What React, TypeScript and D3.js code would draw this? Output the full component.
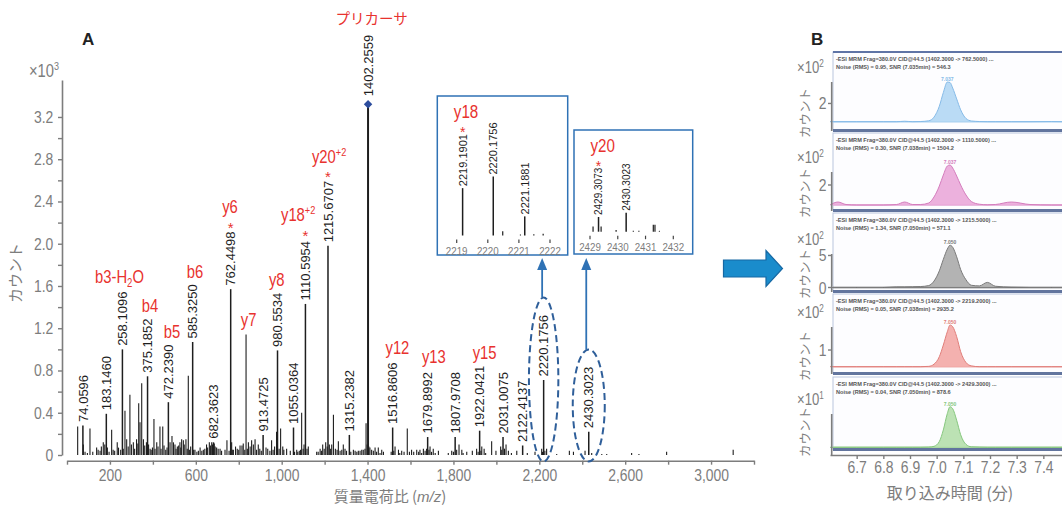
import { useEffect, useRef } from 'react';
import * as d3 from 'd3';

const RED = '#e8322e';
const GRAY = '#7d7d7d';
const BLUE = '#2f72b5';
const INK = '#1e1e1e';
const SANS = "'Liberation Sans', Arial, sans-serif";
const JP = "'Noto Sans CJK JP', 'Noto Sans', sans-serif";
const SQUEEZE = 0.82; // the original uses a condensed face

// ---- Panel A: product ion spectrum, counts in x10^3
const labeledMz = [74.0596, 183.146, 258.1096, 375.1852, 472.239, 585.325, 682.3623, 762.4498, 913.4725, 980.5534,
  1055.0364, 1110.5954, 1215.6707, 1315.2382, 1402.2559, 1516.8606, 1679.8992, 1807.9708, 1922.0421, 2031.0075,
  2122.4137, 2220.1756, 2430.3023];
const labeledCounts = [0.28, 0.39, 1.0, 0.745, 0.5, 1.07, 0.12, 1.57, 0.19, 0.99,
  0.26, 1.43, 1.98, 0.19, 3.32, 0.26, 0.17, 0.17, 0.23, 0.17,
  0.09, 0.71, 0.22];
const starredMz = [762.4498, 1110.5954, 1215.6707];
const precursorMz = 1402.2559;

const minorPeaks: [number, number][] = [
  [49.7, 0.27], [76, 0.1], [84, 0.03], [95, 0.02], [107, 0.25], [120, 0.03], [138, 0.07], [145, 0.05], [154, 0.04],
  [160, 0.08], [169, 0.12], [176, 0.1], [188, 0.07], [196, 0.03], [208, 0.24], [215, 0.05], [222, 0.04], [234, 0.12],
  [240, 0.07], [250, 0.05], [262, 0.06], [270, 0.42], [278, 0.15], [285, 0.08], [293, 0.57], [300, 0.1], [309, 0.12],
  [315, 0.06], [324, 0.15], [330, 0.11], [334, 0.49], [340, 0.31], [348, 0.68], [356, 0.15], [362, 0.09], [370, 0.12],
  [380, 0.1], [387, 0.06], [392, 0.05], [398, 0.07], [405, 0.34], [410, 0.06], [418, 0.12], [424, 0.08], [433, 0.27],
  [438, 0.06], [446, 0.27], [452, 0.09], [460, 0.05], [466, 0.07], [480, 0.12], [489, 0.18], [496, 0.12], [503, 0.1],
  [508, 0.06], [514, 0.08], [520, 0.09], [526, 0.12], [530, 0.07], [534, 0.15], [542, 0.14], [546, 0.1], [554, 0.15],
  [560, 0.06], [565, 0.75], [570, 0.05], [576, 0.08], [590, 0.05], [596, 0.05], [605, 0.03], [612, 0.04], [620, 0.07],
  [628, 0.04], [635, 0.05], [642, 0.06], [650, 0.1], [655, 0.07], [663, 0.12], [668, 0.09], [674, 0.12], [678, 0.1],
  [686, 0.11], [690, 0.08], [697, 0.07], [704, 0.06], [713, 0.06], [720, 0.04], [736, 0.05], [745, 0.14], [755, 0.04],
  [767, 0.12], [770, 0.05], [775, 0.05], [785, 0.08], [793, 0.06], [800, 0.05], [806, 0.09], [815, 0.09], [821, 0.11],
  [828, 0.05], [834, 1.14], [840, 0.06], [845, 0.12], [853, 0.08], [860, 0.14], [868, 0.1], [876, 0.15], [883, 0.05],
  [891, 0.1], [898, 0.06], [905, 0.04], [927, 0.07], [935, 0.06], [945, 0.04], [953, 0.14], [960, 0.05], [967, 0.08],
  [976, 0.22], [988, 0.06], [995, 0.25], [1005, 0.08], [1010, 0.05], [1023, 0.06], [1040, 0.04], [1060, 0.03],
  [1070, 0.05], [1075, 0.03], [1082, 0.04], [1088, 0.05], [1093, 0.4], [1100, 0.06], [1104, 0.1], [1118, 0.06],
  [1124, 0.08], [1163, 0.03], [1170, 0.03], [1179, 0.06], [1185, 0.04], [1191, 0.1], [1198, 0.06], [1205, 0.12],
  [1212, 0.08], [1222, 0.1], [1228, 0.06], [1233, 0.1], [1241, 0.38], [1250, 0.06], [1258, 0.05], [1264, 0.13],
  [1272, 0.04], [1280, 0.05], [1287, 0.1], [1295, 0.06], [1302, 0.04], [1322, 0.03], [1334, 0.05], [1342, 0.04],
  [1350, 0.03], [1357, 0.04], [1365, 0.04], [1373, 0.05], [1380, 0.05], [1388, 0.06], [1393, 0.3], [1398, 0.1],
  [1406, 0.08], [1411, 0.07], [1419, 0.05], [1427, 0.04], [1435, 0.07], [1442, 0.03], [1450, 0.07], [1458, 0.02],
  [1466, 0.05], [1474, 0.03], [1510, 0.03], [1522, 0.04], [1528, 0.08], [1544, 0.05], [1550, 0.02], [1559, 0.04],
  [1570, 0.03], [1585, 0.25], [1595, 0.03], [1605, 0.05], [1615, 0.03], [1629, 0.05], [1638, 0.03], [1644, 0.05],
  [1652, 0.02], [1660, 0.06], [1668, 0.04], [1675, 0.06], [1686, 0.05], [1691, 0.08], [1698, 0.03], [1706, 0.06],
  [1715, 0.02], [1730, 0.04], [1776, 0.02], [1792, 0.04], [1800, 0.03], [1815, 0.05], [1826, 0.1], [1839, 0.05],
  [1845, 0.02], [1862, 0.03], [1888, 0.04], [1908, 0.06], [1915, 0.03], [1928, 0.04], [1932, 0.08], [1943, 0.06],
  [1950, 0.02], [1978, 0.13], [1998, 0.04], [2020, 0.08], [2025, 0.05], [2038, 0.06], [2045, 0.1], [2056, 0.04],
  [2070, 0.02], [2095, 0.04], [2144, 0.02], [2180, 0.03], [2211, 0.06], [2215, 0.03], [2226, 0.04], [2234, 0.06],
  [2281, 0.01], [2340, 0.04], [2359, 0.03], [2413, 0.04], [2444, 0.02], [2467, 0.01], [2491, 0.01], [2514, 0.01],
  [2630, 0.02], [2664, 0.01], [2793, 0.03], [3103, 0.05],
];

// fragment ion annotations
const ionNames = ['b3-H', 'b4', 'b5', 'b6', 'y6', 'y7', 'y8', 'y18', 'y20', 'y12', 'y13', 'y15'];
const ionSub = ['2', '', '', '', '', '', '', '', '', '', '', ''];
const ionTail = ['O', '', '', '', '', '', '', '', '', '', '', ''];
const ionSup = ['', '', '', '', '', '', '', '+2', '+2', '', '', ''];
const ionMz = [244.5, 386.6, 489, 596, 759, 846, 977, 996.7, 1141, 1539, 1709, 1945];
const ionCount = [1.633, 1.358, 1.112, 1.675, 2.291, 1.223, 1.602, 2.211, 2.765, 0.955, 0.875, 0.91];
const ionAnchor = ['middle', 'middle', 'middle', 'middle', 'middle', 'middle', 'middle', 'start', 'start', 'middle', 'middle', 'middle'];

// ---- insets (isotope clusters)
const y18Mz = [2219.1901, 2220.1756, 2220.48, 2221.05, 2221.1881, 2221.48, 2221.78];
const y18Counts = [0.57, 0.71, 0.05, 0.012, 0.23, 0.015, 0.02];
const y18Labels = ['2219.1901', '2220.1756', '', '', '2221.1881', '', ''];
const y18Ticks = [2219, 2220, 2221, 2222];
const y20Mz = [2429.11, 2429.3073, 2429.4, 2429.94, 2430.3023, 2430.56, 2430.76, 2431.28, 2431.34, 2431.5];
const y20Counts = [0.06, 0.17, 0.06, 0.02, 0.22, 0.01, 0.01, 0.08, 0.08, 0.01];
const y20Labels = ['', '2429.3073', '', '', '2430.3023', '', '', '', '', ''];
const y20Ticks = [2429, 2430, 2431, 2432];

// ---- Panel B: MRM chromatograms (retention time, min; counts)
const rtTimes = [6.6, 6.63, 6.66, 6.7, 6.8, 6.85, 6.88, 6.91, 6.94, 6.97, 6.99, 7.01, 7.025, 7.04, 7.05, 7.06,
  7.075, 7.09, 7.11, 7.13, 7.16, 7.19, 7.22, 7.28, 7.35, 7.43, 7.48];
const trace1 = [0, 0, 0, 0, 0, 0, 0.05, 0, 0.02, 0.1, 0.5, 1.7, 3.2, 4.35, 4.3, 3.7, 2.5, 1.3, 0.35, 0.08, 0.02, 0, 0, 0, 0, 0.02, 0];
const trace2 = [0, 0.3, 0.05, 0, 0, 0.05, 0.3, 0.05, 0.05, 0.2, 0.8, 1.9, 3.0, 3.9, 4.0, 3.7, 2.9, 2.0, 1.0, 0.35, 0.08, 0.02, 0.05, 0.3, 0.05, 0, 0];
const trace3 = [0, 0, 0, 0, 0, 0.1, 0.1, 0.12, 0.15, 0.3, 1.0, 2.6, 4.4, 6.0, 6.6, 6.3, 4.8, 2.8, 1.2, 0.35, 0.25, 0.8, 0.2, 0.05, 0, 0, 0];
const trace4 = [0, 0, 0, 0, 0, 0, 0, 0, 0, 0.02, 0.15, 0.6, 1.3, 2.1, 2.5, 2.4, 1.8, 0.9, 0.25, 0.05, 0, 0, 0, 0, 0, 0, 0];
const trace5 = [0, 0, 0, 0, 0, 0, 0, 0, 0, 0.02, 0.1, 0.6, 1.8, 3.5, 4.2, 4.0, 2.8, 1.3, 0.3, 0.05, 0.02, 0, 0, 0, 0, 0, 0];
const traceHeaders = [
  ['-ESI MRM Frag=380.0V CID@44.5 (1402.3000 -> 762.5000) ...', 'Noise (RMS) = 0.95, SNR (7.035min) = 546.3'],
  ['-ESI MRM Frag=380.0V CID@44.5 (1402.3000 -> 1110.5000) ...', 'Noise (RMS) = 0.30, SNR (7.038min) = 1504.2'],
  ['-ESI MRM Frag=380.0V CID@44.5 (1402.3000 -> 1215.5000) ...', 'Noise (RMS) = 1.34, SNR (7.050min) = 571.1'],
  ['-ESI MRM Frag=380.0V CID@44.5 (1402.3000 -> 2219.2000) ...', 'Noise (RMS) = 0.05, SNR (7.038min) = 2935.2'],
  ['-ESI MRM Frag=380.0V CID@44.5 (1402.3000 -> 2429.3000) ...', 'Noise (RMS) = 0.04, SNR (7.050min) = 878.6'],
];
const peakApexLabels = ['7.037', '7.037', '7.050', '7.050', '7.050'];
const rtTicks = [6.7, 6.8, 6.9, 7.0, 7.1, 7.2, 7.3, 7.4];

const TRACES = [trace1, trace2, trace3, trace4, trace5];
const PANELS = [
  { top: 52, bottom: 130, base: 121.7, plotTop: 75.2, yMax: 5.1, ticks: [2], exp: '2', expY: 73, fill: '#b3d7f4', line: '#86bbe8', baseLine: '#a9d0f0' },
  { top: 133, bottom: 210, base: 205, plotTop: 156, yMax: 4.9, ticks: [2], exp: '2', expY: 163, fill: '#eaa8d9', line: '#d47dbd', baseLine: '#e2a5d3' },
  { top: 213, bottom: 291, base: 287.5, plotTop: 235, yMax: 8.2, ticks: [0, 5], exp: '2', expY: 245, fill: '#ababab', line: '#7a7a7a', baseLine: '#5a5a5a' },
  { top: 294, bottom: 373, base: 366.7, plotTop: 316, yMax: 3.04, ticks: [1], exp: '2', expY: 318, fill: '#f3a9a6', line: '#e07e7a', baseLine: '#eeb0ad' },
  { top: 377, bottom: 449, base: 447.3, plotTop: 399, yMax: 5, ticks: [], exp: '1', expY: 405, fill: '#b5dfac', line: '#86c77e', baseLine: '#a9d6a1' },
];

const x = d3.scaleLinear().domain([0, 3200]).range([67, 754]);
const y = d3.scaleLinear().domain([0, 3.55]).range([455, 80]);
const xIn18 = d3.scaleLinear().domain([2219, 2222]).range([456.7, 550]);
const yIn18 = d3.scaleLinear().domain([0, 0.71]).range([235.5, 176.5]);
const xIn20 = d3.scaleLinear().domain([2429, 2432]).range([590, 673.3]);
const yIn20 = d3.scaleLinear().domain([0, 0.22]).range([231.7, 212.7]);
const xRt = d3.scaleLinear().domain([6.6, 7.5]).range([830, 1070]);

const labelLen = (s: string, fs: number) =>
  s.split('').reduce((a, c) => a + (c === '.' ? 0.278 : 0.556) * fs, 0);

// condensed text: Liberation Sans squeezed horizontally
function Cond({ x: cx, y: cy, sx = SQUEEZE, children, ...rest }: any) {
  return (
    <g transform={`translate(${cx},${cy}) scale(${sx},1)`}>
      <text x={0} y={0} fontFamily={SANS} {...rest}>{children}</text>
    </g>
  );
}

function Inset({ xs, ys, mz, counts, labels, ticks, box, name, starIdx, fs }: any) {
  const tickY = ys(0) + 4;
  const starTop = ys(counts[starIdx]) - 2 - labelLen(labels[starIdx], fs);
  return (
    <g>
      <rect x={box[0]} y={box[1]} width={box[2]} height={box[3]} fill="#fff" stroke={BLUE} strokeWidth={1.5} />
      <Cond x={box[0] + 16.5} y={box[1] + 22} fill={RED} fontSize={18.5}>{name}</Cond>
      {mz.map((m: number, i: number) => (
        <line key={i} x1={xs(m)} x2={xs(m)} y1={ys(0)} y2={ys(counts[i])} stroke={INK}
          strokeWidth={labels[i] ? 1.5 : 1.2} />
      ))}
      {mz.map((m: number, i: number) => labels[i] ? (
        <text key={'l' + i} transform={`translate(${xs(m)},${ys(counts[i]) - 2}) rotate(-90)`} dy="0.36em"
          fontFamily={SANS} fontSize={fs} fill={INK}>{labels[i]}</text>
      ) : null)}
      <text x={xs(mz[starIdx])} y={starTop - 5 + 8} textAnchor="middle" fill={RED} fontFamily={SANS}
        fontSize={14}>*</text>
      {ticks.map((t: number) => (
        <g key={t}>
          <line x1={xs(t)} x2={xs(t)} y1={tickY} y2={tickY + 3.5} stroke="#444" strokeWidth={1.2} />
          <Cond x={xs(t)} y={tickY + 15} sx={0.85} textAnchor="middle" fill={GRAY} fontSize={11.5}>{t}</Cond>
        </g>
      ))}
    </g>
  );
}

function Chromatogram({ p, values, header, apex, last }: any) {
  const ys = d3.scaleLinear().domain([0, p.yMax]).range([p.base, p.plotTop]);
  const pts = rtTimes.map((t, i) => [t, values[i]] as [number, number]);
  const area = d3.area<[number, number]>().x(d => xRt(d[0])).y0(p.base).y1(d => ys(d[1])).curve(d3.curveMonotoneX);
  const line = d3.line<[number, number]>().x(d => xRt(d[0])).y(d => ys(d[1])).curve(d3.curveMonotoneX);
  const apexI = values.indexOf(Math.max(...values));
  return (
    <g>
      <rect x={833} y={p.top} width={240} height={p.bottom - p.top} fill="#fdfdff" stroke="#b9c5de" strokeWidth={1} />
      <text x={836} y={p.top + 9} fontFamily={SANS} fontSize={5.6} fontWeight="bold" fill="#555">{header[0]}</text>
      <text x={836} y={p.top + 17} fontFamily={SANS} fontSize={5.6} fontWeight="bold" fill="#555">{header[1]}</text>
      <line x1={833} x2={1062} y1={p.base} y2={p.base} stroke={p.baseLine} strokeWidth={1.5} />
      <path d={area(pts) || ''} fill={p.fill} opacity={0.9} />
      <path d={line(pts) || ''} fill="none" stroke={p.line} strokeWidth={1} />
      <text x={xRt(rtTimes[apexI])} y={ys(values[apexI]) - 1} textAnchor="middle" fontFamily={SANS} fontSize={5}
        fontWeight="bold" fill={p.line}>{apex}</text>
      <rect x={833} y={p.bottom - 1} width={240} height={3} fill="#62759e" />
      <line x1={831.7} x2={831.7} y1={p.expY + 9} y2={last ? 455 : p.bottom + 1} stroke={GRAY} strokeWidth={1.6} />
      {p.ticks.map((t: number) => (
        <g key={t}>
          <line x1={828} x2={831.7} y1={ys(t)} y2={ys(t)} stroke={GRAY} strokeWidth={1.4} />
          <Cond x={826.5} y={ys(t) + 6} textAnchor="end" fill={GRAY} fontSize={17}>{t}</Cond>
        </g>
      ))}
      <Cond x={797} y={p.expY} fill={GRAY} fontSize={16}>×10<tspan dy={-6} fontSize={10}>{p.exp}</tspan></Cond>
      <text transform={`translate(${810},${p.bottom - 17}) rotate(-90)`} textAnchor="middle" fill={GRAY}
        fontFamily={JP} fontSize={12.5}>カウント</text>
    </g>
  );
}

function styleAxis(a: any) {
  a.select('.domain').attr('stroke', GRAY).attr('stroke-width', 1.6);
  a.selectAll('.tick line').attr('stroke', GRAY).attr('stroke-width', 1.4);
  a.selectAll('.tick text').attr('fill', GRAY).style('font-family', SANS).style('font-size', '17px')
    .attr('transform', `scale(${SQUEEZE},1)`);
}

export default function App() {
  const axARef = useRef<SVGGElement>(null);
  const axBRef = useRef<SVGGElement>(null);

  useEffect(() => {
    const gA = d3.select(axARef.current);
    gA.selectAll('*').remove();
    const yAxis = d3.axisLeft(y)
      .tickValues(d3.range(0, 17).map(i => i * 0.2))
      .tickSize(4).tickSizeOuter(0).tickPadding(6.6)
      .tickFormat((d: any) => (Math.round(d * 10) % 4 === 0 ? (d === 0 ? '0' : d.toFixed(1)) : ''));
    styleAxis(gA.append('g').attr('transform', 'translate(62,0)').call(yAxis));
    const xAxis = d3.axisBottom(x)
      .tickValues(d3.range(0, 3201, 200))
      .tickSize(4).tickSizeOuter(0).tickPadding(4)
      .tickFormat((d: any) => (d > 0 && (d - 200) % 400 === 0 ? d3.format(',')(d) : ''));
    styleAxis(gA.append('g').attr('transform', 'translate(0,460.7)').call(xAxis));

    const gB = d3.select(axBRef.current);
    gB.selectAll('*').remove();
    const rtAxis = d3.axisBottom(xRt).tickValues(rtTicks).tickSize(4).tickSizeOuter(0).tickPadding(2)
      .tickFormat((d: any) => d.toFixed(1));
    styleAxis(gB.append('g').attr('transform', 'translate(0,455)').call(rtAxis));
  }, []);

  const diamond = d3.symbol(d3.symbolSquare, 36)() || '';

  return (
    <div style={{ position: 'absolute', left: 0, top: 0 }}>
      <svg width={1062} height={505} style={{ display: 'block', background: '#fff' }}>
        {/* ---------- Panel A ---------- */}
        <text x={82} y={45} fontFamily={SANS} fontWeight="bold" fontSize={17} fill="#222">A</text>
        <Cond x={29} y={76.5} fill={GRAY} fontSize={18}>×10<tspan dy={-7} fontSize={11}>3</tspan></Cond>
        <text transform="translate(21,273) rotate(-90)" textAnchor="middle" fill={GRAY} fontFamily={JP} fontSize={15}>カウント</text>
        <text x={390} y={502} textAnchor="middle" fill={GRAY} fontFamily={JP} fontSize={15}>
          質量電荷比 (<tspan fontStyle="italic" fontFamily={SANS}>m/z</tspan>)
        </text>
        <g ref={axARef} />

        {minorPeaks.map(([m, c], i) => (
          <line key={'m' + i} x1={x(m)} x2={x(m)} y1={y(0)} y2={y(c)} stroke={INK} strokeWidth={1.1} />
        ))}
        {labeledMz.map((m, i) => (
          <line key={'p' + i} x1={x(m)} x2={x(m)} y1={y(0)} y2={y(labeledCounts[i])} stroke={INK}
            strokeWidth={m === precursorMz ? 2 : 1.5} />
        ))}
        <path d={diamond} transform={`translate(${x(precursorMz)},${y(3.32)}) rotate(45)`} fill="#2d4d9e" />
        {labeledMz.map((m, i) => {
          const gap = m === precursorMz ? 8 : 3.5;
          const s = m.toFixed(4);
          const y0 = y(labeledCounts[i]) - gap;
          return (
            <g key={'t' + i}>
              <text transform={`translate(${x(m)},${y0}) rotate(-90)`} dy="0.36em" fontFamily={SANS}
                fontSize={13} fill={INK}>{s}</text>
              {starredMz.includes(m) ? (
                <text x={x(m)} y={y0 - labelLen(s, 13) - 7 + 8.5} textAnchor="middle" fill={RED}
                  fontFamily={SANS} fontSize={15}>*</text>
              ) : null}
            </g>
          );
        })}
        <text x={x(1419)} y={y(4.076)} textAnchor="middle" fill={RED} fontFamily={JP} fontSize={14.5}>プリカーサ</text>
        {ionNames.map((n, i) => (
          <Cond key={n} x={x(ionMz[i])} y={y(ionCount[i])} sx={0.8} textAnchor={ionAnchor[i]} fill={RED}
            fontSize={18.5}>
            {n}
            {ionSub[i] ? <tspan dy={4} fontSize={12}>{ionSub[i]}</tspan> : null}
            {ionTail[i] ? <tspan dy={-4}>{ionTail[i]}</tspan> : null}
            {ionSup[i] ? <tspan dy={-7} fontSize={11.5}>{ionSup[i]}</tspan> : null}
          </Cond>
        ))}

        {/* isotope cluster callouts */}
        <ellipse cx={x(2220.1756)} cy={379.5} rx={14.7} ry={82} fill="none" stroke="#2f5f9a" strokeWidth={2}
          strokeDasharray="7,4" />
        <ellipse cx={x(2430.3023)} cy={405.5} rx={16} ry={56} fill="none" stroke="#2f5f9a" strokeWidth={2}
          strokeDasharray="7,4" />
        <line x1={x(2220.1756) - 1.5} x2={x(2220.1756) - 1.5} y1={297} y2={266} stroke={BLUE} strokeWidth={1.8} />
        <path d={`M${x(2220.1756) - 1.5},258 l-5,12 l10,0 z`} fill={BLUE} />
        <line x1={x(2430.3023) - 2.5} x2={x(2430.3023) - 2.5} y1={349.5} y2={266} stroke={BLUE} strokeWidth={1.8} />
        <path d={`M${x(2430.3023) - 2.5},258 l-5,12 l10,0 z`} fill={BLUE} />

        <Inset xs={xIn18} ys={yIn18} mz={y18Mz} counts={y18Counts} labels={y18Labels} ticks={y18Ticks}
          box={[437.3, 96, 130.4, 159]} name="y18" starIdx={0} fs={11} />
        <Inset xs={xIn20} ys={yIn20} mz={y20Mz} counts={y20Counts} labels={y20Labels} ticks={y20Ticks}
          box={[574, 130, 118.7, 124]} name="y20" starIdx={1} fs={10} />

        {/* big arrow */}
        <path d="M723.5,260 L766,260 L766,250.5 L782.5,268.5 L766,286.5 L766,277 L723.5,277 Z" fill="#1a8ccc"
          stroke="#1668a3" strokeWidth={1.2} />

        {/* ---------- Panel B ---------- */}
        <text x={811} y={45} fontFamily={SANS} fontWeight="bold" fontSize={17} fill="#222">B</text>
        {PANELS.map((p, i) => (
          <Chromatogram key={i} p={p} values={TRACES[i]} header={traceHeaders[i]} apex={peakApexLabels[i]}
            last={i === PANELS.length - 1} />
        ))}
        <rect x={833} y={51} width={240} height={2} fill="#5f74a6" />
        <g ref={axBRef} />
        <text x={950} y={499} textAnchor="middle" fill={GRAY} fontFamily={JP} fontSize={16}>取り込み時間 (分)</text>
      </svg>
    </div>
  );
}
